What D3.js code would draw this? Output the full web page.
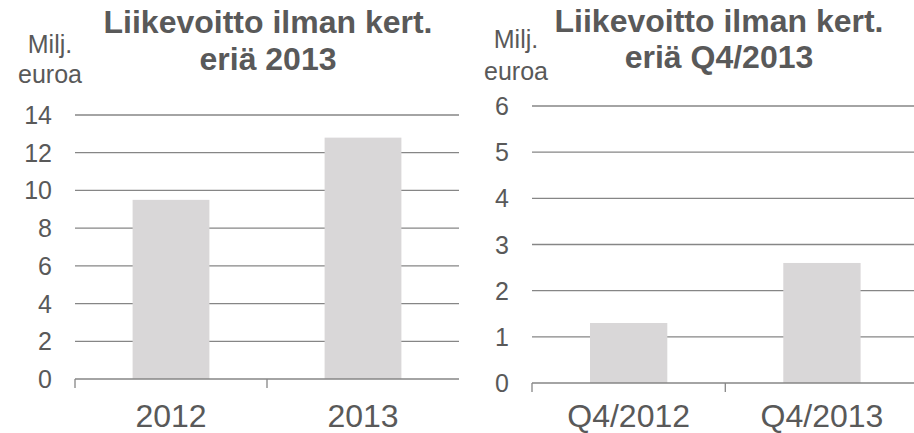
<!DOCTYPE html>
<html>
<head>
<meta charset="utf-8">
<script src="https://cdn.jsdelivr.net/npm/d3@7"></script>
<style>
  body { margin: 0; background: #fff; }
  svg { display: block; font-family: "Liberation Sans", Arial, sans-serif; }
</style>
</head>
<body>
<svg id="chart" width="914" height="433"></svg>
<script>
// Data
const yearCategories = ["2012", "2013"];
const yearValues = [9.5, 12.8];
const yearTicks = [0, 2, 4, 6, 8, 10, 12, 14];

const quarterCategories = ["Q4/2012", "Q4/2013"];
const quarterValues = [1.3, 2.6];
const quarterTicks = [0, 1, 2, 3, 4, 5, 6];

const titleLines = ["Liikevoitto ilman kert.", "eriä 2013"];
const quarterTitleLines = ["Liikevoitto ilman kert.", "eriä Q4/2013"];
const unitLines = ["Milj.", "euroa"];

const textColor = "#595959";
const gridColor = "#868686";
const barColor = "#d9d7d8";

const svg = d3.select("#chart");

function drawChart(opts) {
  const g = svg.append("g");

  const x = d3.scaleBand()
    .domain(opts.categories)
    .range([opts.left, opts.right])
    .paddingInner(0.6)
    .paddingOuter(0.3);

  const y = d3.scaleLinear()
    .domain([0, d3.max(opts.ticks)])
    .range([opts.bottom, opts.top]);

  // gridlines (except zero, which is the axis line)
  g.selectAll("line.grid")
    .data(opts.ticks.filter(t => t !== 0))
    .enter().append("line")
    .attr("x1", opts.left)
    .attr("x2", opts.right)
    .attr("y1", d => y(d))
    .attr("y2", d => y(d))
    .attr("stroke", gridColor)
    .attr("stroke-width", 1.3);

  // bars
  g.selectAll("rect")
    .data(opts.values)
    .enter().append("rect")
    .attr("x", (d, i) => x(opts.categories[i]))
    .attr("width", x.bandwidth())
    .attr("y", d => y(d))
    .attr("height", d => y(0) - y(d))
    .attr("fill", barColor);

  // x axis line + ticks at band boundaries
  g.append("line")
    .attr("x1", opts.left).attr("x2", opts.right)
    .attr("y1", y(0)).attr("y2", y(0))
    .attr("stroke", gridColor)
    .attr("stroke-width", 1.3);

  const bounds = opts.categories.map(c => x(c) - x.step() * x.paddingOuter());
  g.selectAll("line.xtick")
    .data(bounds)
    .enter().append("line")
    .attr("x1", d => d).attr("x2", d => d)
    .attr("y1", y(0)).attr("y2", y(0) + 9)
    .attr("stroke", gridColor)
    .attr("stroke-width", 1.3);

  // y tick labels
  g.selectAll("text.ytick")
    .data(opts.ticks)
    .enter().append("text")
    .attr("x", opts.tickX)
    .attr("y", d => y(d))
    .attr("dy", "0.36em")
    .attr("text-anchor", "end")
    .attr("font-size", 25)
    .attr("fill", textColor)
    .text(d => d);

  // x labels
  g.selectAll("text.xlabel")
    .data(opts.categories)
    .enter().append("text")
    .attr("x", d => x(d) + x.bandwidth() / 2)
    .attr("y", 427)
    .attr("text-anchor", "middle")
    .attr("font-size", 32)
    .attr("fill", textColor)
    .text(d => d);

  // title
  g.selectAll("text.title")
    .data(opts.title)
    .enter().append("text")
    .attr("x", opts.titleX)
    .attr("y", (d, i) => opts.titleY[i])
    .attr("text-anchor", "middle")
    .attr("font-size", 32)
    .attr("font-weight", "bold")
    .attr("fill", textColor)
    .text(d => d);

  // unit label
  g.selectAll("text.unit")
    .data(unitLines)
    .enter().append("text")
    .attr("x", opts.unitX)
    .attr("y", (d, i) => opts.unitY[i])
    .attr("text-anchor", "middle")
    .attr("font-size", 25)
    .attr("fill", textColor)
    .text(d => d);
}

drawChart({
  categories: yearCategories, values: yearValues, ticks: yearTicks,
  left: 75, right: 459, top: 115, bottom: 379,
  tickX: 52, title: titleLines, titleX: 268, titleY: [33, 70],
  unitX: 50, unitY: [53, 83]
});

drawChart({
  categories: quarterCategories, values: quarterValues, ticks: quarterTicks,
  left: 532, right: 918.6, top: 106, bottom: 383,
  tickX: 509, title: quarterTitleLines, titleX: 719, titleY: [32, 68],
  unitX: 516, unitY: [48, 80]
});
</script>
</body>
</html>
